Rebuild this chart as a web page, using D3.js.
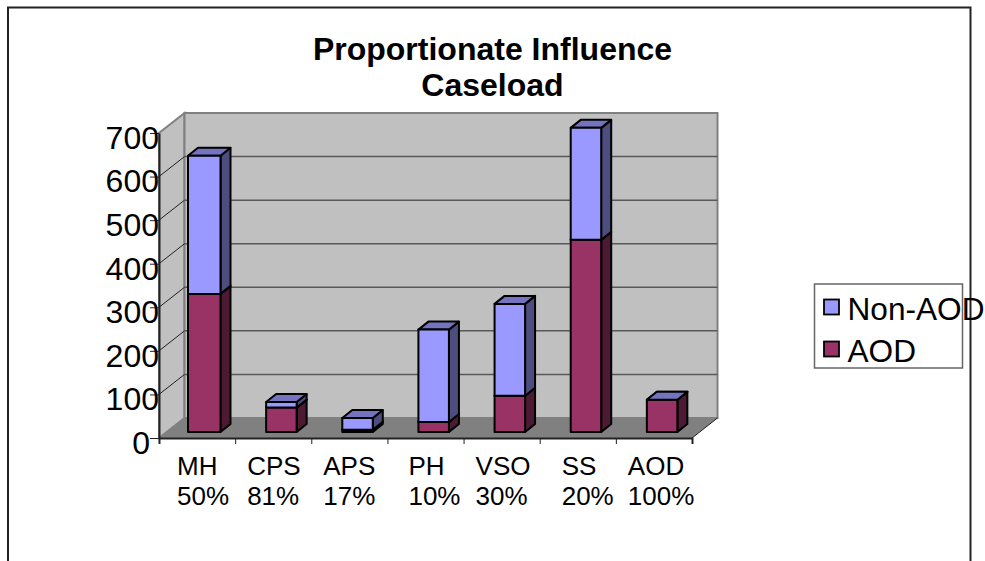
<!DOCTYPE html>
<html>
<head>
<meta charset="utf-8">
<script src="https://d3js.org/d3.v7.min.js"></script>
<style>
    html, body { margin: 0; padding: 0; background: #fff; }
    svg { display: block; }
    text { font-family: "Liberation Sans", Arial, sans-serif; fill: #000; }
    .domain { stroke: #222; stroke-width: 2px; }
</style>
</head>
<body>
<div id="myDiv"></div>
<script>
// values
const categories = ["MH", "CPS", "APS", "PH", "VSO", "SS", "AOD"];
const shareLabels = ["50%", "81%", "17%", "10%", "30%", "20%", "100%"];
const aodValues = [317, 56, 5, 23, 83, 441, 74];
const nonAodValues = [317, 13, 27, 212, 211, 257, 0];
const yTicks = [0, 100, 200, 300, 400, 500, 600, 700];
const titleLines = ["Proportionate Influence", "Caseload"];

const width = 985;
const height = 561;

// the 3d box: front plane plus an offset to the back wall
const left = 159, right = 692, floorFront = 438, topFront = 133;
const wallDx = 25.5, wallDy = -20;
const barInset = 31, barWidth = 30.5, barFloor = 432, barDx = 10, barDy = -8;
// first bar comes out a little wider in the original
const barGrow = [2, 0, 0, 0, 0, 0, 0];
// the category text is left aligned in each block, not centred on the band
const labelInset = [18, 12, 12, 21, 12, 22, 12];

const svg = d3.select("#myDiv").append("svg")
    .attr("width", width)
    .attr("height", height);

const x = d3.scaleBand().domain(categories).range([left, right]);
const xEdges = d3.scaleLinear().domain([0, categories.length]).range([left, right]);
const yFront = d3.scaleLinear().domain([0, 700]).range([floorFront, topFront]);
const yBack = d3.scaleLinear().domain([0, 700]).range([floorFront + wallDy, topFront + wallDy]);
const yBar = d3.scaleLinear().domain([0, 700])
    .range([barFloor, barFloor - (floorFront - topFront)]);

const pts = a => a.map(p => p.join(",")).join(" ");

// outer frame, its bottom edge is cut off by the page
svg.append("rect")
    .attr("x", 8).attr("y", 7.5)
    .attr("width", 962.5).attr("height", 640)
    .attr("fill", "#fff").attr("stroke", "#222").attr("stroke-width", 2);

// side wall, back wall, floor
const backLeft = left + wallDx, backRight = right + wallDx;
svg.append("polygon")
    .attr("points", pts([[left, yFront(0)], [left, yFront(700)], [backLeft, yBack(700)], [backLeft, yBack(0)]]))
    .attr("fill", "#c0c0c0").attr("stroke", "#808080").attr("stroke-width", 2);
svg.append("rect")
    .attr("x", backLeft).attr("y", yBack(700))
    .attr("width", backRight - backLeft).attr("height", yBack(0) - yBack(700))
    .attr("fill", "#c0c0c0").attr("stroke", "#808080").attr("stroke-width", 2);
svg.append("polygon")
    .attr("points", pts([[left, yFront(0)], [backLeft, yBack(0)], [backRight, yBack(0)], [right, yFront(0)]]))
    .attr("fill", "#808080");
svg.append("line")
    .attr("x1", right).attr("y1", yFront(0))
    .attr("x2", backRight).attr("y2", yBack(0))
    .attr("stroke", "#222").attr("stroke-width", 1);

// gridlines
const gridTicks = yTicks.filter(d => d > 0 && d < 700);
svg.selectAll(".grid").data(gridTicks).join("line")
    .attr("class", "grid")
    .attr("x1", backLeft).attr("x2", backRight)
    .attr("y1", d => yBack(d)).attr("y2", d => yBack(d))
    .attr("stroke", "#595959").attr("stroke-width", 1.5);
svg.selectAll(".wallGrid").data(gridTicks).join("line")
    .attr("class", "wallGrid")
    .attr("x1", left).attr("x2", backLeft)
    .attr("y1", d => yFront(d)).attr("y2", d => yBack(d))
    .attr("stroke", "#222").attr("stroke-width", 1);

// axes
const yAxis = svg.append("g")
    .attr("transform", `translate(${left},0)`)
    .call(d3.axisLeft(yFront).tickValues(yTicks).tickSize(9).tickSizeOuter(0).tickPadding(-8));
yAxis.select(".domain").attr("stroke", "#808080").attr("stroke-width", 2);
yAxis.selectAll(".tick line").attr("stroke", "#222");
yAxis.selectAll(".tick text")
    .attr("font-size", 32)
    .attr("font-family", "Liberation Sans")
    .attr("dy", "0.48em")
    .attr("x", d => d === 0 ? -9 : 0);

const xAxis = svg.append("g")
    .attr("transform", `translate(0,${floorFront})`)
    .call(d3.axisBottom(xEdges).ticks(categories.length).tickSize(6).tickSizeOuter(6).tickFormat(""));
xAxis.selectAll(".tick line").attr("stroke", "#222");

// stacked bars, drawn one after the other so the zero height tops still show
const series = [
    { name: "AOD", values: aodValues, front: "#993366", side: "#4d1a33", top: "#732650" },
    { name: "Non-AOD", values: nonAodValues, front: "#9999ff", side: "#4d4d80", top: "#7373bf" }
];

categories.forEach((c, i) => {
    const g = svg.append("g").attr("class", "bar");
    let base = 0;
    series.forEach(s => {
        const x1 = x(c) + barInset + barWidth, x0 = x(c) + barInset - barGrow[i];
        const y0 = yBar(base), y1 = yBar(base + s.values[i]);
        base += s.values[i];
        g.append("polygon")
            .attr("points", pts([[x1, y0], [x1, y1], [x1 + barDx, y1 + barDy], [x1 + barDx, y0 + barDy]]))
            .attr("fill", s.side);
        g.append("polygon")
            .attr("points", pts([[x0, y1], [x1, y1], [x1 + barDx, y1 + barDy], [x0 + barDx, y1 + barDy]]))
            .attr("fill", s.top);
        g.append("rect")
            .attr("x", x0).attr("y", y1)
            .attr("width", x1 - x0).attr("height", y0 - y1)
            .attr("fill", s.front);
        g.selectAll("polygon, rect")
            .attr("stroke", "#000").attr("stroke-width", 2).attr("stroke-linejoin", "round");
    });
});

// category labels
const labels = svg.selectAll(".catLabel").data(categories).join("text")
    .attr("class", "catLabel")
    .attr("font-size", 26);
labels.append("tspan")
    .attr("x", (d, i) => x(d) + labelInset[i]).attr("y", 475)
    .text(d => d);
labels.append("tspan")
    .attr("x", (d, i) => x(d) + labelInset[i]).attr("y", 505)
    .text((d, i) => shareLabels[i]);

// title
svg.selectAll(".title").data(titleLines).join("text")
    .attr("class", "title")
    .attr("x", 492.5)
    .attr("y", (d, i) => 60 + i * 36)
    .attr("text-anchor", "middle")
    .attr("font-size", 32)
    .attr("font-weight", "bold")
    .text(d => d);

// legend
const legend = svg.append("g");
legend.append("rect")
    .attr("x", 814.5).attr("y", 284)
    .attr("width", 148).attr("height", 84)
    .attr("fill", "#fff").attr("stroke", "#666").attr("stroke-width", 1.5);
const legendRows = legend.selectAll(".row").data([series[1], series[0]]).join("g")
    .attr("class", "row")
    .attr("transform", (d, i) => `translate(824,${299.5 + i * 42})`);
legendRows.append("rect")
    .attr("width", 15).attr("height", 15)
    .attr("fill", d => d.front)
    .attr("stroke", "#000").attr("stroke-width", 1.8);
legendRows.append("text")
    .attr("x", 23.5).attr("y", 20.5)
    .attr("font-size", 31.6)
    .text(d => d.name);
</script>
</body>
</html>
